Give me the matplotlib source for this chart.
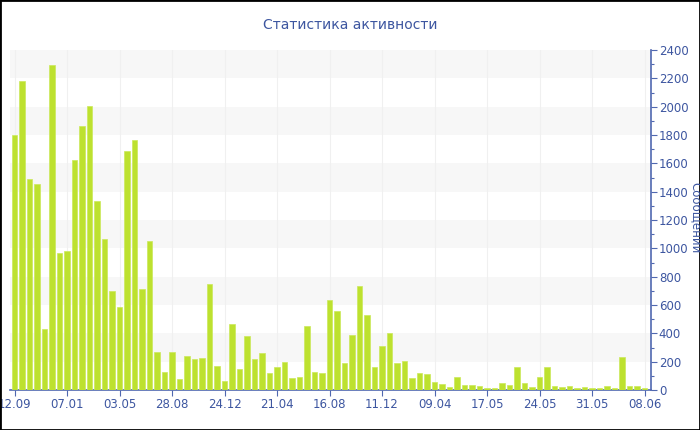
import matplotlib.pyplot as plt
import numpy as np
from matplotlib.patches import Rectangle

# messages per period
messages = [1800, 2180, 1490, 1455, 430, 2295, 965, 979, 1626, 1861,
            2007, 1334, 1064, 701, 586, 1687, 1762, 715, 1052, 268,
            127, 266, 79, 238, 219, 226, 746, 167, 67, 466,
            146, 384, 219, 259, 120, 162, 195, 86, 95, 449,
            129, 122, 635, 555, 188, 388, 734, 527, 162, 311,
            402, 191, 205, 82, 118, 113, 56, 42, 22, 89,
            38, 34, 30, 14, 14, 52, 38, 161, 47, 24,
            93, 163, 28, 21, 26, 17, 19, 12, 17, 31,
            12, 235, 26, 31, 17]
tick_labels = ['12.09', '07.01', '03.05', '28.08', '24.12', '21.04', '16.08',
               '11.12', '09.04', '17.05', '24.05', '31.05', '08.06']

blue = '#3d56a0'
axis_blue = '#5068b0'

fig = plt.figure(figsize=(7, 4.3), dpi=100)
ax = fig.add_axes([10 / 700, 40 / 430, 640.5 / 700, 340 / 430])

x = np.arange(len(messages))
ax.bar(x, messages, width=0.76, color='#bde12f', edgecolor='#cbe95a',
       linewidth=0.5, zorder=3)

# alternating horizontal bands
for lo in range(200, 2400, 400):
    ax.axhspan(lo, lo + 200, color='#f7f7f7', zorder=0, lw=0)

ax.set_xlim(-0.6, len(messages) - 0.2)
ax.set_ylim(0, 2400)

ticks = np.arange(0, len(messages), 7)
ax.set_xticks(ticks)
ax.set_xticklabels(tick_labels)
ax.xaxis.grid(True, color='#f0f0f0', lw=0.8, zorder=1)

ax.yaxis.tick_right()
ax.set_yticks(np.arange(0, 2401, 200))
ax.set_yticks(np.arange(0, 2401, 100), minor=True)

for s in ['left', 'top']:
    ax.spines[s].set_visible(False)
for s in ['right', 'bottom']:
    ax.spines[s].set_color(axis_blue)
    ax.spines[s].set_linewidth(1.2)

ax.tick_params(axis='both', which='both', colors=axis_blue, labelcolor=blue,
               labelsize=8.5, length=4, width=0.8, pad=2)
ax.tick_params(axis='y', which='minor', length=2.5)
ax.set_facecolor('white')

fig.text(0.5, 1 - 25 / 430, 'Статистика активности', ha='center', va='center',
         color=blue, fontsize=10)
fig.text(1 - 4 / 700, 1 - 218 / 430, 'Сообщений', ha='center', va='center',
         rotation=270, color=blue, fontsize=8.5)

fig.patches.append(Rectangle((0, 0), 1, 1, transform=fig.transFigure,
                             fill=False, edgecolor='black', linewidth=2))

fig.savefig('out.png', dpi=100)
